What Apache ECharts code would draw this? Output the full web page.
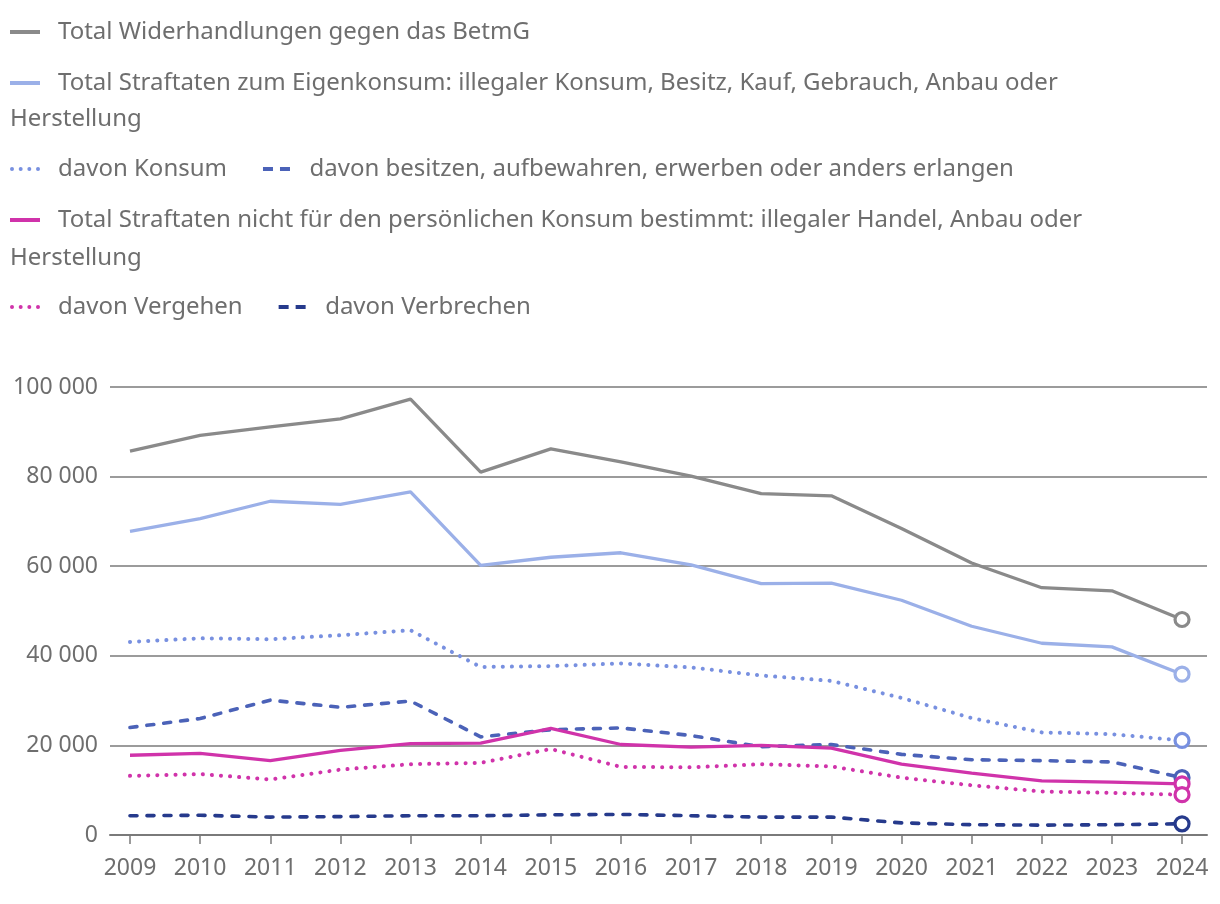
<!DOCTYPE html>
<html>
<head>
<meta charset="utf-8">
<script src="https://cdn.jsdelivr.net/npm/echarts@6/dist/echarts.min.js"></script>
<style>
html,body{margin:0;padding:0;background:#fff;}
#chart{width:1220px;height:904px;}
</style>
</head>
<body>
<div id="chart"></div>
<script>
const years = [2009,2010,2011,2012,2013,2014,2015,2016,2017,2018,2019,2020,2021,2022,2023,2024];
const yTicks = [0,20000,40000,60000,80000,100000];

const nameTotal = 'Total Widerhandlungen gegen das BetmG';
const nameEigen = 'Total Straftaten zum Eigenkonsum: illegaler Konsum, Besitz, Kauf, Gebrauch, Anbau oder Herstellung';
const nameKonsum = 'davon Konsum';
const nameBesitz = 'davon besitzen, aufbewahren, erwerben oder anders erlangen';
const nameHandel = 'Total Straftaten nicht für den persönlichen Konsum bestimmt: illegaler Handel, Anbau oder Herstellung';
const nameVergehen = 'davon Vergehen';
const nameVerbrechen = 'davon Verbrechen';

const totalValues     = [85700,89200,91100,92900,97300,81000,86200,83300,80100,76200,75700,68400,60700,55200,54500,48100];
const eigenValues     = [67800,70600,74500,73800,76600,60200,62000,63000,60300,56100,56200,52400,46600,42800,42000,35900];
const konsumValues    = [43100,43900,43700,44600,45700,37500,37700,38300,37400,35600,34400,30600,26100,22900,22500,21100];
const besitzValues    = [24000,26000,30100,28500,29900,21900,23500,23900,22200,19700,20200,18000,16800,16600,16300,12800];
const handelValues    = [17800,18200,16600,18900,20400,20500,23800,20200,19600,20000,19400,15800,13800,12100,11800,11400];
const vergehenValues  = [13200,13600,12400,14600,15800,16100,19200,15200,15100,15800,15300,12800,11100,9700,9400,9000];
const verbrechenValues= [4300,4400,4000,4100,4300,4300,4500,4600,4300,4000,4000,2700,2300,2200,2300,2500];

const textColor = '#6e6e6e';
const gridColor = '#7a7a7a';
const FONT = '"Noto Sans", sans-serif';

function fmt(v){ return String(v).replace(/\B(?=(\d{3})+(?!\d))/g, ' '); }

function makeSeries(name, values, color, type){
  const n = values.length;
  const data = values.map((v,i) => {
    if (i === n-1) {
      return {value:[years[i], v], symbol:'circle', symbolSize:14,
        itemStyle:{color:'#fff', borderColor:color, borderWidth:3.2}};
    }
    return [years[i], v];
  });
  let lineType = 'solid', width = 3.3;
  if (type === 'dotted') { lineType = [0.1, 9]; width = 4; }
  if (type === 'dashed') { lineType = [7, 10]; width = 3.6; }
  return {
    name: name, type: 'line', data: data, color: color,
    symbol: 'none', showSymbol: true, showAllSymbol: true,
    lineStyle: {width: width, color: color, type: lineType, cap: type === 'solid' ? 'butt' : 'round'},
    emphasis: {disabled: true},
    z: 2
  };
}

const iconSolid = 'path://M0,0H30V4H0Z';
const iconDotted = 'path://M0,2a2,2 0 1,0 4,0a2,2 0 1,0 -4,0Z M8.67,2a2,2 0 1,0 4,0a2,2 0 1,0 -4,0Z M17.33,2a2,2 0 1,0 4,0a2,2 0 1,0 -4,0Z M26,2a2,2 0 1,0 4,0a2,2 0 1,0 -4,0Z';
const iconDashed = 'path://M0,0H10V4H0Z M17,0H27V4H17Z';

const firstLine = {};
firstLine[nameEigen] = 'Total Straftaten zum Eigenkonsum: illegaler Konsum, Besitz, Kauf, Gebrauch, Anbau oder';
firstLine[nameHandel] = 'Total Straftaten nicht für den persönlichen Konsum bestimmt: illegaler Handel, Anbau oder';

function legendAt(top, items, gap){
  return {
    top: top, left: 10, padding: 0, itemGap: gap || 36,
    itemWidth: 30, itemHeight: 4, selectedMode: false,
    itemStyle: {borderWidth: 0},
    data: items.map(it => ({name: it[0], icon: it[1]})),
    formatter: function(n){ return firstLine[n] || n; },
    textStyle: {fontFamily: FONT, fontSize: 24, color: textColor, padding: [0,0,0,13], lineHeight: 24}
  };
}

const chart = echarts.init(document.getElementById('chart'), null, {renderer: 'canvas'});
const option = {
  animation: false,
  backgroundColor: '#fff',
  textStyle: {fontFamily: FONT},
  legend: [
    legendAt(20, [[nameTotal, iconSolid]]),
    legendAt(71, [[nameEigen, iconSolid]]),
    legendAt(157, [[nameKonsum, iconDotted],[nameBesitz, iconDashed]]),
    legendAt(208, [[nameHandel, iconSolid]]),
    legendAt(295, [[nameVergehen, iconDotted],[nameVerbrechen, iconDashed]])
  ],
  graphic: [
    {type:'text', left: 10, top: 107, style:{text:'Herstellung', font:'24px "Noto Sans", sans-serif', fill:textColor}},
    {type:'text', left: 10, top: 246, style:{text:'Herstellung', font:'24px "Noto Sans", sans-serif', fill:textColor}}
  ],
  grid: {left: 110, right: 13, top: 387, bottom: 69, containLabel: false},
  xAxis: {
    type: 'value', min: 2008.715, max: 2024.356,
    axisLine: {show: true, lineStyle: {color: gridColor, width: 2}},
    axisTick: {show: true, customValues: years, length: 9, lineStyle: {color: gridColor, width: 1.5}},
    axisLabel: {customValues: years, formatter: v => String(v), fontSize: 23, color: textColor, margin: 22, fontFamily: FONT},
    splitLine: {show: false}
  },
  yAxis: {
    type: 'value', min: yTicks[0], max: yTicks[yTicks.length-1], interval: yTicks[1]-yTicks[0],
    axisLine: {show: false}, axisTick: {show: false},
    axisLabel: {formatter: v => fmt(v), fontSize: 23, color: textColor, margin: 12, fontFamily: FONT},
    splitLine: {show: true, lineStyle: {color: gridColor, width: 1.5}}
  },
  series: [
    makeSeries(nameTotal, totalValues, '#8a8a8a', 'solid'),
    makeSeries(nameEigen, eigenValues, '#9bb0e8', 'solid'),
    makeSeries(nameKonsum, konsumValues, '#7890e0', 'dotted'),
    makeSeries(nameBesitz, besitzValues, '#4b62b8', 'dashed'),
    makeSeries(nameHandel, handelValues, '#d033aa', 'solid'),
    makeSeries(nameVergehen, vergehenValues, '#d033aa', 'dotted'),
    makeSeries(nameVerbrechen, verbrechenValues, '#263a8c', 'dashed')
  ]
};
chart.setOption(option);
</script>
</body>
</html>
